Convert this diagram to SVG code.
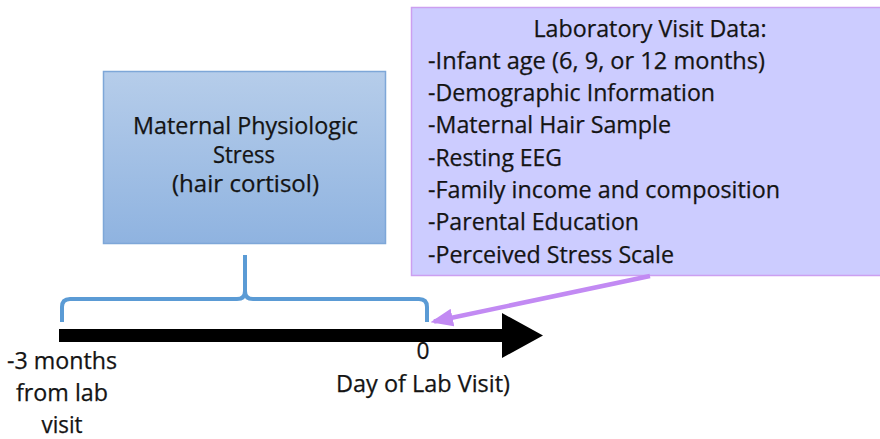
<svg xmlns="http://www.w3.org/2000/svg" width="880" height="439" viewBox="0 0 880 439">
<defs>
<linearGradient id="blueGrad" x1="0" y1="0" x2="0" y2="1">
<stop offset="0" stop-color="#b6cdea"/>
<stop offset="1" stop-color="#8fb3e0"/>
</linearGradient>
<marker id="purpleHead" markerWidth="5" markerHeight="4" refX="4.2" refY="2" orient="auto" markerUnits="strokeWidth">
<path d="M0,0 L5,2 L0,4 Z" fill="#c28af3"/>
</marker>
<style>
text { font-family: "Open Sans", "Noto Sans", sans-serif; fill: #141414; stroke: #141414; stroke-width: 0.25; font-size: 23px; }
.c { text-anchor: middle; }
.bracket { fill: none; stroke: #5b9bd5; stroke-width: 4; stroke-linejoin: round; }
</style>
</defs>
<rect width="880" height="439" fill="#ffffff"/>

<g id="node-stress">
<rect x="103.5" y="71.5" width="282" height="172" fill="url(#blueGrad)" stroke="#7ea7d8" stroke-width="1.5"/>
<text class="c" x="245.5" y="134" textLength="225" lengthAdjust="spacingAndGlyphs">Maternal Physiologic</text>
<text class="c" x="244" y="163" textLength="62" lengthAdjust="spacingAndGlyphs">Stress</text>
<text class="c" x="245.5" y="192" textLength="147" lengthAdjust="spacingAndGlyphs">(hair cortisol)</text>
</g>

<g id="node-lab">
<rect x="411.5" y="7.5" width="472" height="268" fill="#ccccff" stroke="#cc9ff0" stroke-width="1.5"/>
<text class="c" x="650" y="37" textLength="233" lengthAdjust="spacingAndGlyphs">Laboratory Visit Data:</text>
<text x="428" y="69" textLength="337" lengthAdjust="spacingAndGlyphs">-Infant age (6, 9, or 12 months)</text>
<text x="428" y="101" textLength="287" lengthAdjust="spacingAndGlyphs">-Demographic Information</text>
<text x="428" y="133" textLength="243" lengthAdjust="spacingAndGlyphs">-Maternal Hair Sample</text>
<text x="428" y="166" textLength="134" lengthAdjust="spacingAndGlyphs">-Resting EEG</text>
<text x="428" y="198" textLength="352" lengthAdjust="spacingAndGlyphs">-Family income and composition</text>
<text x="428" y="230" textLength="211" lengthAdjust="spacingAndGlyphs">-Parental Education</text>
<text x="428" y="263" textLength="246" lengthAdjust="spacingAndGlyphs">-Perceived Stress Scale</text>
</g>

<g id="node-timeline">
<path d="M59,329 L502,329 L502,313 L543,335.5 L502,358 L502,342 L59,342 Z" fill="#000000"/>
<text class="c" x="62" y="369" textLength="110" lengthAdjust="spacingAndGlyphs">-3 months</text>
<text class="c" x="62" y="401" textLength="92" lengthAdjust="spacingAndGlyphs">from lab</text>
<text class="c" x="62" y="433" textLength="41" lengthAdjust="spacingAndGlyphs">visit</text>
<text class="c" x="423" y="359" textLength="13" lengthAdjust="spacingAndGlyphs">0</text>
<text x="336" y="392" textLength="174" lengthAdjust="spacingAndGlyphs">Day of Lab Visit)</text>
</g>

<g id="connectors">
<path class="bracket" d="M62,322 L62,307 Q62,299 70,299 L237,299 Q245,299 245,291 L245,255 M245,291 Q245,299 253,299 L419,299 Q427,299 427,307 L427,322"/>
<line x1="650" y1="276" x2="434" y2="321.5" stroke="#c28af3" stroke-width="4.5" marker-end="url(#purpleHead)"/>
</g>
</svg>
